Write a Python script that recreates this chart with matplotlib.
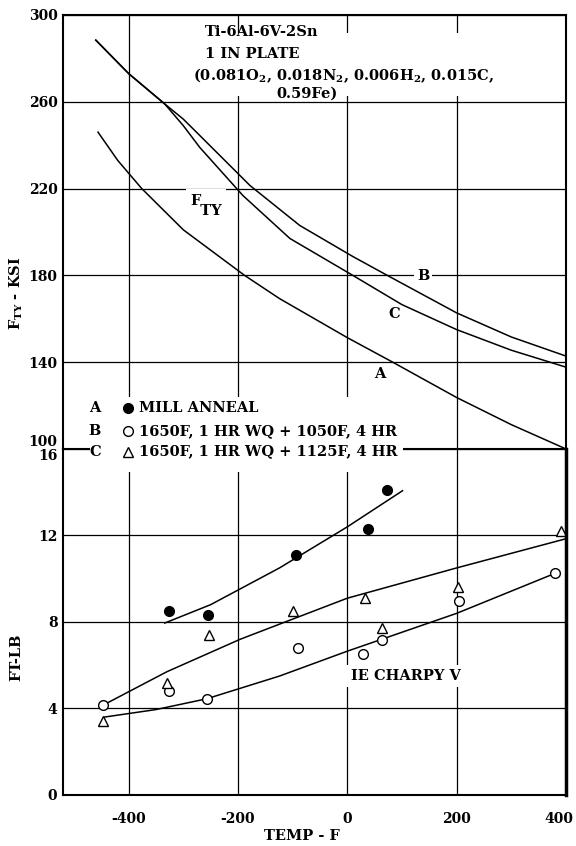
import matplotlib.pyplot as plt
from matplotlib.patches import Rectangle
from matplotlib.transforms import ScaledTranslation

plt.rcParams['font.family'] = ['DejaVu Serif']
plt.rcParams['font.weight'] = 'bold'
plt.rcParams['mathtext.fontset'] = 'dejavuserif'
plt.rcParams['mathtext.default'] = 'bf'
plt.rcParams['axes.unicode_minus'] = False

# yield strength vs temperature (KSI)
temp_a = [-456, -420, -376, -300, -188, -124, 0, 83, 200, 300, 400]
fty_a = [246, 233, 220, 201, 180, 169.3, 151.3, 140, 123.7, 111.2, 100]
temp_b = [-460, -400, -334, -300, -270, -178, -87, 10, 73, 200, 300, 400]
fty_b = [288.4, 273, 259, 252, 244.5, 221.4, 203, 188.7, 180, 162.7, 151.6, 142.8]
temp_c = [-460, -400, -334, -300, -270, -191, -105, 10, 100, 200, 300, 400]
fty_c = [288.4, 273, 259, 249, 239, 216.8, 197, 180, 166.5, 155, 145.5, 137.7]

# charpy V impact energy (FT-LB)
a_temp = [-326, -255, -94, 37, 72]
a_ftlb = [8.5, 8.3, 11.1, 12.3, 14.1]
b_temp = [-447, -326, -257, -91, 28, 64, 205, 380]
b_ftlb = [4.15, 4.8, 4.45, 6.8, 6.5, 7.15, 8.95, 10.25]
c_temp = [-447, -330, -253, -100, 33, 64, 203, 390]
c_ftlb = [3.4, 5.2, 7.4, 8.5, 9.1, 7.7, 9.6, 12.2]

# faired curves through the charpy points
fit_a_temp = [-334, -250, -124, 0, 101]
fit_a = [7.95, 8.8, 10.5, 12.4, 14.07]
fit_b_temp = [-445, -350, -257, -124, 0, 200, 380]
fit_b = [3.6, 3.95, 4.45, 5.5, 6.65, 8.4, 10.25]
fit_c_temp = [-447, -330, -196, -124, 0, 200, 400]
fit_c = [4.15, 5.7, 7.2, 7.9, 9.1, 10.5, 11.85]

xticks = [-400, -200, 0, 200, 400]
ksi_ticks = [100, 140, 180, 220, 260, 300]
ftlb_ticks = [0, 4, 8, 12, 16]

FS = 10.5  # annotation text size

fig = plt.figure(figsize=(5.76, 8.46), dpi=100)
ax1 = fig.add_axes([0.1094, 0.4693, 0.8733, 0.5130])
ax2 = fig.add_axes([0.1094, 0.0603, 0.8733, 0.4090])
ax1.set_zorder(2)

for ax in (ax1, ax2):
    ax.set_xlim(-520, 400)
    ax.set_xticks(xticks)
    ax.grid(True, color='black', lw=0.9)
    ax.tick_params(length=0, labelsize=10)
    for s in ax.spines.values():
        s.set_linewidth(1.5)

ax1.set_ylim(100, 300)
ax1.set_yticks(ksi_ticks)
ax1.tick_params(axis='x', labelbottom=False)
ax1.tick_params(axis='y', pad=4)
ax1.get_yticklabels()[0].set_va('bottom')

ax2.set_ylim(0, 16)
ax2.set_yticks(ftlb_ticks)
ax2.tick_params(axis='y', pad=4)
ax2.tick_params(axis='x', pad=12)
ax2.get_yticklabels()[-1].set_va('top')
ax2.spines['top'].set_visible(False)
ax2.spines['right'].set_linewidth(2.5)
# keep the last temperature label inside the figure
lbl = ax2.xaxis.get_major_ticks()[-1].label1
lbl.set_transform(lbl.get_transform() + ScaledTranslation(-5 / 72, 0, fig.dpi_scale_trans))

# FTY curves
for t, f in ((temp_a, fty_a), (temp_b, fty_b), (temp_c, fty_c)):
    ax1.plot(t, f, color='black', lw=1.1, clip_on=False)

ax1.text(139, 179.5, 'B', ha='center', va='center', fontsize=FS,
         bbox=dict(fc='white', ec='none', pad=2))
ax1.text(86, 162, 'C', ha='center', va='center', fontsize=FS)
ax1.text(59, 134.5, 'A', ha='center', va='center', fontsize=FS,
         bbox=dict(fc='white', ec='none', pad=1.5))
ax1.text(-288, 212, 'F\n  TY', ha='left', va='center', fontsize=FS,
         linespacing=0.7, bbox=dict(fc='white', ec='none', pad=3))

# material block
ax1.add_patch(Rectangle((-285, 262.5), 585, 29, fc='white', ec='none', zorder=1.8))
ax1.text(-261, 292, 'Ti-6Al-6V-2Sn', ha='left', va='center', fontsize=FS)
ax1.text(-261, 281.8, '1 IN PLATE', ha='left', va='center', fontsize=FS)
ax1.text(-283, 272, r'(0.081O$_2$, 0.018N$_2$, 0.006H$_2$, 0.015C,',
         ha='left', va='center', fontsize=FS)
ax1.text(-129, 263.8, '0.59Fe)', ha='left', va='center', fontsize=FS)

# legend block straddling the two panels
ax1.add_patch(Rectangle((-471, 89.5), 572, 34.5, fc='white', ec='none',
                        zorder=2.6, clip_on=False))
rows = [(119.1, 'A', 'MILL ANNEAL'),
        (108.2, 'B', '1650F, 1 HR WQ + 1050F, 4 HR'),
        (98.8, 'C', '1650F, 1 HR WQ + 1125F, 4 HR')]
styles = [dict(marker='o', mfc='black'), dict(marker='o', mfc='white'),
          dict(marker='^', mfc='white')]
for (y, letter, desc), st in zip(rows, styles):
    ax1.text(-462, y, letter, ha='center', va='center', fontsize=FS, zorder=3)
    ax1.plot([-401], [y], ls='none', mec='black', ms=7, mew=1,
             clip_on=False, zorder=3, **st)
    ax1.text(-381, y, desc, ha='left', va='center', fontsize=FS, zorder=3)

# charpy panel
for t, f in ((fit_a_temp, fit_a), (fit_b_temp, fit_b), (fit_c_temp, fit_c)):
    ax2.plot(t, f, color='black', lw=1.1)
ax2.plot(a_temp, a_ftlb, 'o', mfc='black', mec='black', ms=7, clip_on=False)
ax2.plot(b_temp, b_ftlb, 'o', mfc='white', mec='black', ms=7, mew=1, clip_on=False)
ax2.plot(c_temp, c_ftlb, '^', mfc='white', mec='black', ms=7.5, mew=1, clip_on=False)
ax2.text(6, 5.5, 'IE CHARPY V', ha='left', va='center', fontsize=FS,
         bbox=dict(fc='white', ec='none', pad=3))

fig.text(0.029, 1 - 293 / 846, r'F$_{\mathregular{TY}}$ - KSI', rotation=90,
         ha='center', va='center', fontsize=FS)
fig.text(0.029, 1 - 657 / 846, 'FT-LB', rotation=90, ha='center', va='center',
         fontsize=FS)
fig.text(302 / 576, 1 - 836 / 846, 'TEMP - F', ha='center', va='center',
         fontsize=FS)

fig.savefig('out.png', dpi=100)
